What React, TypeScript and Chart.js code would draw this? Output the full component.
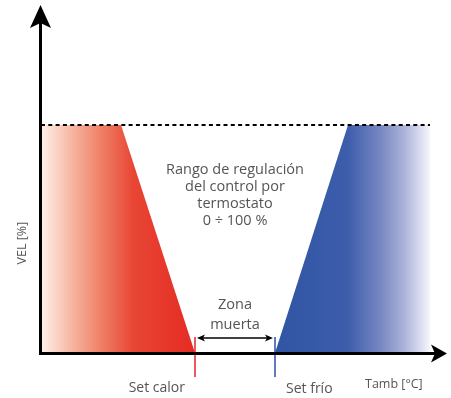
import React, { useEffect, useRef } from 'react';
import { Chart, registerables } from 'chart.js';

Chart.register(...registerables);

// ---- data (x: Tamb arbitrary units, y: VEL %) ----
const heatingCurve = [
  { x: 0, y: 100 },
  { x: 20, y: 100 },
  { x: 38.5, y: 0 },
];
const coolingCurve = [
  { x: 58.5, y: 0 },
  { x: 76.75, y: 100 },
  { x: 97.25, y: 100 },
];
const rangeLine = [
  { x: 0, y: 100 },
  { x: 97.25, y: 100 },
];
const SET_CALOR = 38.5;
const SET_FRIO = 58.5;
const X_AXIS_END = 101.5;
const Y_AXIS_END = 152.6;
const rangeLabel = ['Rango de regulación', 'del control por', 'termostato', '0 ÷ 100 %'];
const deadZoneLabel = ['Zona', 'muerta'];
const xAxisTitle = 'Tamb [°C]';
const yAxisTitle = 'VEL [%]';
const setCalorLabel = 'Set calor';
const setFrioLabel = 'Set frío';

const RED = '#e52b24';
const BLUE = '#2f55a3';
const TEXT = '#555555';
const FONT = '"Open Sans", "Noto Sans", sans-serif';

function redGradient(context: any) {
  const chart = context.chart;
  const { ctx, chartArea, scales } = chart;
  if (!chartArea) return RED;
  const x0 = scales.x.getPixelForValue(0);
  const x1 = scales.x.getPixelForValue(SET_CALOR);
  const g = ctx.createLinearGradient(x0, 0, x1, 0);
  g.addColorStop(0, '#fdf1ec');
  g.addColorStop(0.2, '#f6b6a2');
  g.addColorStop(0.4, '#ee7d63');
  g.addColorStop(0.6, '#e84634');
  g.addColorStop(1, RED);
  return g;
}

function blueGradient(context: any) {
  const chart = context.chart;
  const { ctx, chartArea, scales } = chart;
  if (!chartArea) return BLUE;
  const x0 = scales.x.getPixelForValue(SET_FRIO);
  const x1 = scales.x.getPixelForValue(coolingCurve[coolingCurve.length - 1].x);
  const g = ctx.createLinearGradient(x0, 0, x1, 0);
  g.addColorStop(0, BLUE);
  g.addColorStop(0.47, '#3d5dab');
  g.addColorStop(0.68, '#7787c1');
  g.addColorStop(0.84, '#adb5db');
  g.addColorStop(1, '#f6f6fc');
  return g;
}

const overlayPlugin = {
  id: 'overlay',
  afterDatasetsDraw(chart: any) {
    const { ctx, scales } = chart;
    const px = (v: number) => scales.x.getPixelForValue(v);
    const py = (v: number) => scales.y.getPixelForValue(v);
    ctx.save();

    // set-point ticks
    ctx.lineWidth = 1.5;
    ctx.strokeStyle = '#e8212b';
    ctx.beginPath();
    ctx.moveTo(px(SET_CALOR), py(7));
    ctx.lineTo(px(SET_CALOR), py(-10.5));
    ctx.stroke();
    ctx.strokeStyle = '#2a4fa8';
    ctx.beginPath();
    ctx.moveTo(px(SET_FRIO), py(7));
    ctx.lineTo(px(SET_FRIO), py(-10.5));
    ctx.stroke();

    // axes
    const ox = px(0) - 0.5;
    const oy = py(0) + 0.5;
    ctx.strokeStyle = '#000';
    ctx.fillStyle = '#000';
    ctx.lineWidth = 3;
    ctx.beginPath();
    ctx.moveTo(ox, oy + 1.5);
    ctx.lineTo(ox, py(Y_AXIS_END) + 18);
    ctx.stroke();
    ctx.beginPath();
    ctx.moveTo(ox - 1.5, oy);
    ctx.lineTo(px(X_AXIS_END) - 12, oy);
    ctx.stroke();
    // y arrow head
    const ty = py(Y_AXIS_END);
    ctx.beginPath();
    ctx.moveTo(ox, ty);
    ctx.lineTo(ox + 10.5, ty + 23);
    ctx.lineTo(ox, ty + 18);
    ctx.lineTo(ox - 10.5, ty + 23);
    ctx.closePath();
    ctx.fill();
    // x arrow head
    const tx = px(X_AXIS_END);
    ctx.beginPath();
    ctx.moveTo(tx, oy);
    ctx.lineTo(tx - 16, oy - 9);
    ctx.lineTo(tx - 12, oy);
    ctx.lineTo(tx - 16, oy + 9);
    ctx.closePath();
    ctx.fill();

    // dead zone double arrow
    const ay = py(6.6);
    const ax0 = px(SET_CALOR) + 2;
    const ax1 = px(SET_FRIO) - 2;
    ctx.lineWidth = 1.5;
    ctx.beginPath();
    ctx.moveTo(ax0 + 4, ay);
    ctx.lineTo(ax1 - 4, ay);
    ctx.stroke();
    ctx.beginPath();
    ctx.moveTo(ax0, ay);
    ctx.lineTo(ax0 + 8, ay - 3.5);
    ctx.lineTo(ax0 + 6, ay);
    ctx.lineTo(ax0 + 8, ay + 3.5);
    ctx.closePath();
    ctx.fill();
    ctx.beginPath();
    ctx.moveTo(ax1, ay);
    ctx.lineTo(ax1 - 8, ay - 3.5);
    ctx.lineTo(ax1 - 6, ay);
    ctx.lineTo(ax1 - 8, ay + 3.5);
    ctx.closePath();
    ctx.fill();

    // texts
    ctx.fillStyle = TEXT;
    ctx.textBaseline = 'middle';
    ctx.textAlign = 'center';
    ctx.font = `14.5px ${FONT}`;
    const cx = px(48.5);
    const rangeY = [80.3, 72.8, 65.4, 57.9];
    rangeLabel.forEach((t, i) => ctx.fillText(t, cx, py(rangeY[i])));
    const dzY = [21, 12.3];
    deadZoneLabel.forEach((t, i) => ctx.fillText(t, cx, py(dzY[i])));

    ctx.font = `14px ${FONT}`;
    ctx.textAlign = 'right';
    ctx.fillText(setCalorLabel, px(SET_CALOR) - 10, py(-15.4));
    ctx.textAlign = 'left';
    ctx.fillText(setFrioLabel, px(SET_FRIO) + 11, py(-15.8));
    ctx.font = `12.5px ${FONT}`;
    ctx.fillText(xAxisTitle, px(81), py(-13.6));

    ctx.save();
    ctx.translate(px(-4.75), py(48.2));
    ctx.rotate(-Math.PI / 2);
    ctx.textAlign = 'center';
    ctx.font = `12.5px ${FONT}`;
    ctx.fillText(yAxisTitle, 0, 0);
    ctx.restore();

    ctx.restore();
  },
};

export default function App() {
  const ref = useRef<HTMLCanvasElement | null>(null);
  useEffect(() => {
    if (!ref.current) return;
    const chart = new Chart(ref.current, {
      type: 'line',
      data: {
        datasets: [
          {
            data: rangeLine,
            borderColor: '#000',
            borderWidth: 2,
            borderDash: [4, 3.3],
            pointRadius: 0,
            fill: false,
            order: 0,
          },
          {
            data: heatingCurve,
            borderWidth: 0,
            borderColor: 'rgba(0,0,0,0)',
            backgroundColor: redGradient,
            pointRadius: 0,
            fill: 'origin',
            order: 1,
          },
          {
            data: coolingCurve,
            borderWidth: 0,
            borderColor: 'rgba(0,0,0,0)',
            backgroundColor: blueGradient,
            pointRadius: 0,
            fill: 'origin',
            order: 1,
          },
        ] as any,
      },
      options: {
        responsive: false,
        animation: false,
        layout: { padding: 0 },
        plugins: { legend: { display: false }, tooltip: { enabled: false } },
        scales: {
          x: { type: 'linear', display: false, min: -10.25, max: 102.5 },
          y: { type: 'linear', display: false, min: -19.74, max: 154.82 },
        },
      },
      plugins: [overlayPlugin],
    });
    return () => chart.destroy();
  }, []);
  return (
    <div style={{ position: 'absolute', left: 0, top: 0, width: 451, height: 398, background: '#fff' }}>
      <canvas ref={ref} width={451} height={398} style={{ display: 'block' }} />
    </div>
  );
}
